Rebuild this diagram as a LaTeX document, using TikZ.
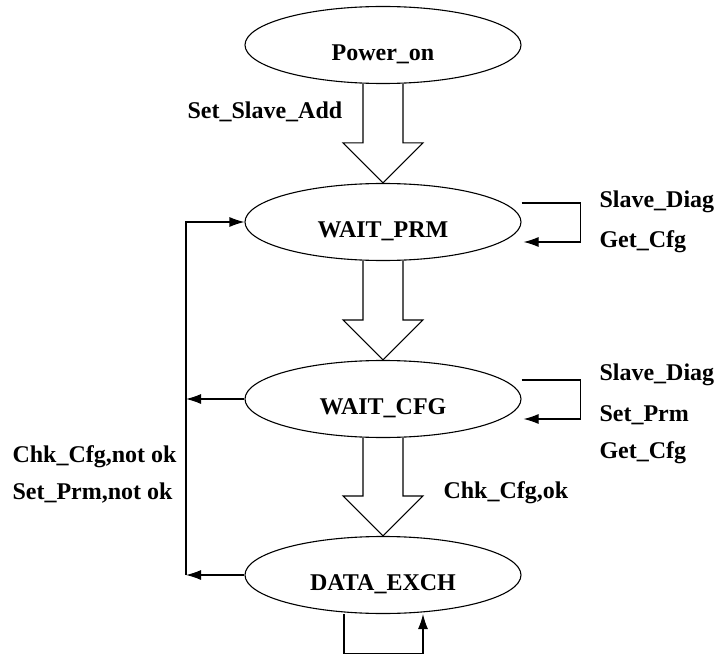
\documentclass[tikz,border=0pt]{standalone}
\usepackage{fontspec}
\setmainfont{Liberation Serif}
\usetikzlibrary{shapes.geometric, arrows.meta, calc}

\tikzset{
  state/.style={draw, ellipse, minimum width=276pt, minimum height=77pt, inner sep=0pt},
  lbl/.style={anchor=west, inner sep=0pt},
  every node/.style={font=\fontsize{24}{28}\selectfont\bfseries},
}
% state names sit a little below the middle of the ellipse
\newcommand\sttext[1]{\raisebox{-9pt}[\height][\depth]{#1}}
% hollow block arrow from one state down to the next
\newcommand\hollowarrow[2]{%
  \draw let \p1=(#1.south), \p2=(#2.north) in
    (\x1-20pt,\y1) -- (\x1-20pt,\y2+40pt) -- (\x1-40pt,\y2+40pt) -- (\x2,\y2)
    -- (\x1+40pt,\y2+40pt) -- (\x1+20pt,\y2+40pt) -- (\x1+20pt,\y1);}

\begin{document}
\begin{tikzpicture}[x=1pt, y=-1pt, >={Latex[length=15pt,width=10pt]}, line width=1.1pt]
\useasboundingbox (0,0) rectangle (720,655);
% states
\node[state] (pon) at (383,45) {\sttext{Power\_on}};
\node[state] (wprm) at (383,222) {\sttext{WAIT\_PRM}};
\node[state] (wcfg) at (383,399) {\sttext{WAIT\_CFG}};
\node[state] (dexch) at (383,575) {\sttext{DATA\_EXCH}};
% main path
\hollowarrow{pon}{wprm}
\hollowarrow{wprm}{wcfg}
\hollowarrow{wcfg}{dexch}
% self loops
\draw[->] ([yshift=19pt]wprm.east) -- ++(59,0) |- ([xshift=2pt,yshift=-20pt]wprm.east);
\draw[->] ([yshift=19pt]wcfg.east) -- ++(59,0) |- ([xshift=2pt,yshift=-20pt]wcfg.east);
\draw[->] ([xshift=-39pt]dexch.south) -- ++(0,39) -| ([xshift=40pt]dexch.south);
% way back to WAIT_PRM
\coordinate (back) at (186,575);
\draw[->] (wcfg.west) -- (wcfg.west -| back);
\draw[->] (dexch.west) -- (back);
\draw[->] (back) |- (wprm.west);
% labels
\node[lbl] (setadd) at (187,112) {Set\_Slave\_Add};
\node[lbl] (diag1) at (599,202) {Slave\_Diag};
\node[lbl] (getcfg1) at (599,242) {Get\_Cfg};
\node[lbl] (diag2) at (599,375) {Slave\_Diag};
\node[lbl] (setprm) at (599,415) {Set\_Prm};
\node[lbl] (getcfg2) at (599,453) {Get\_Cfg};
\node[lbl] (cfgok) at (443,493) {Chk\_Cfg,ok};
\node[lbl] (cfgnok) at (12,457) {Chk\_Cfg,not ok};
\node[lbl] (prmnok) at (12,493) {Set\_Prm,not ok};
\end{tikzpicture}
\end{document}
